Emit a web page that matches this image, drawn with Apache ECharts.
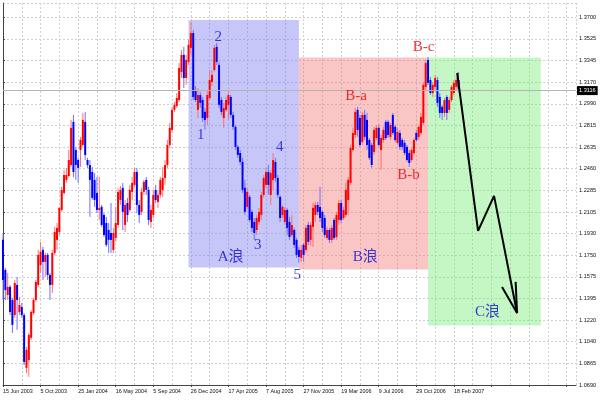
<!DOCTYPE html>
<html><head><meta charset="utf-8">
<script src="https://cdn.jsdelivr.net/npm/echarts@6/dist/echarts.min.js"></script>
<style>html,body{margin:0;padding:0;background:#fff}#c{width:600px;height:400px}</style>
</head><body><div id="c"></div>
<script>
// weekly candles: [open, close, low, high]
const candles = [
[1.1878,1.1550,1.1386,1.1934],[1.1632,1.1468,1.1386,1.1649],[1.1427,1.1493,1.1386,1.1607],[1.1493,1.1288,1.1263,1.1509],
[1.1386,1.1182,1.1116,1.1403],[1.1263,1.1525,1.1239,1.1550],[1.1509,1.1386,1.1141,1.1575],[1.1288,1.1345,1.1263,1.1411],
[1.1329,1.1263,1.1239,1.1361],[1.1263,1.0879,1.0854,1.1279],[1.0830,1.0977,1.0788,1.1002],[1.0895,1.1100,1.0756,1.1116],
[1.1076,1.1288,1.1059,1.1304],[1.1279,1.1386,1.1263,1.1403],[1.1386,1.1534,1.1370,1.1550],[1.1509,1.1755,1.1493,1.1796],
[1.1673,1.1780,1.1607,1.1862],[1.1796,1.1698,1.1550,1.1821],[1.1698,1.1755,1.1575,1.1771],[1.1755,1.1591,1.1550,1.1771],
[1.1591,1.1509,1.1386,1.1607],[1.1509,1.1771,1.1443,1.1796],[1.1771,1.1943,1.1755,1.1984],[1.1878,1.1976,1.1796,1.2016],
[1.1943,1.2140,1.1918,1.2148],[1.2123,1.2287,1.2107,1.2312],[1.2262,1.2409,1.2246,1.2450],[1.2369,1.2409,1.2344,1.2467],
[1.2401,1.2532,1.2385,1.2614],[1.2491,1.2795,1.2475,1.2860],[1.2844,1.2434,1.2393,1.2901],[1.2614,1.2491,1.2369,1.2639],
[1.2532,1.2467,1.2344,1.2549],[1.2614,1.2696,1.2475,1.2721],[1.2655,1.2860,1.2639,1.2917],[1.2844,1.2573,1.2532,1.2926],
[1.2532,1.2491,1.2467,1.2549],[1.2491,1.2369,1.2066,1.2532],[1.2434,1.2222,1.2205,1.2475],[1.2369,1.2205,1.2148,1.2425],
[1.2262,1.2123,1.2098,1.2393],[1.2123,1.2140,1.2041,1.2393],[1.2148,1.2000,1.1984,1.2164],[1.2082,1.1918,1.1902,1.2098],
[1.2016,1.1837,1.1821,1.2066],[1.1959,1.1878,1.1771,1.2016],[1.1934,1.1878,1.1771,1.2180],[1.1796,1.1934,1.1771,1.1976],
[1.1894,1.2016,1.1862,1.2148],[1.2000,1.2271,1.1976,1.2304],[1.2205,1.2287,1.2164,1.2320],[1.2304,1.2107,1.1959,1.2344],
[1.2000,1.2164,1.1943,1.2205],[1.2180,1.2082,1.2025,1.2222],[1.2123,1.2287,1.2107,1.2328],[1.2271,1.2344,1.2205,1.2393],
[1.2328,1.2434,1.2312,1.2467],[1.2434,1.2164,1.2098,1.2467],[1.2164,1.2082,1.2016,1.2205],[1.2107,1.2271,1.2082,1.2304],
[1.2271,1.2353,1.2246,1.2369],[1.2369,1.2287,1.2246,1.2393],[1.2287,1.2041,1.2000,1.2312],[1.2025,1.2123,1.1976,1.2164],
[1.2082,1.2246,1.2057,1.2287],[1.2287,1.2205,1.2180,1.2328],[1.2189,1.2246,1.2140,1.2287],[1.2246,1.2369,1.2222,1.2393],
[1.2287,1.2385,1.2230,1.2475],[1.2385,1.2491,1.2328,1.2532],[1.2491,1.2655,1.2467,1.2696],[1.2655,1.2795,1.2631,1.2835],
[1.2778,1.2942,1.2762,1.2967],[1.2942,1.2983,1.2926,1.3007],[1.2974,1.3039,1.2958,1.3080],[1.3023,1.3285,1.3007,1.3326],
[1.3253,1.3392,1.3203,1.3433],[1.3392,1.3203,1.3121,1.3458],[1.3203,1.3351,1.3146,1.3392],[1.3335,1.3474,1.3310,1.3515],
[1.3450,1.3571,1.3392,1.3662],[1.3571,1.3048,1.3023,1.3596],[1.3105,1.3023,1.3007,1.3138],[1.2942,1.3064,1.2876,1.3121],
[1.3064,1.2999,1.2958,1.3089],[1.3023,1.2876,1.2844,1.3048],[1.2926,1.2860,1.2778,1.2958],[1.2876,1.3064,1.2819,1.3105],
[1.3039,1.3187,1.3023,1.3269],[1.3171,1.3228,1.3138,1.3269],[1.3269,1.3450,1.3253,1.3474],[1.3458,1.3335,1.3310,1.3490],
[1.3310,1.2983,1.2958,1.3335],[1.3023,1.2926,1.2901,1.3048],[1.2876,1.2958,1.2795,1.2999],[1.2942,1.3023,1.2926,1.3048],
[1.2983,1.3064,1.2860,1.3105],[1.3048,1.2901,1.2876,1.3064],[1.2901,1.2803,1.2778,1.2926],[1.2803,1.2639,1.2614,1.2819],
[1.2639,1.2573,1.2549,1.2655],[1.2589,1.2516,1.2491,1.2614],[1.2516,1.2287,1.2262,1.2549],[1.2304,1.2107,1.2082,1.2369],
[1.2148,1.2271,1.2123,1.2304],[1.2230,1.2041,1.2025,1.2246],[1.2107,1.1976,1.1943,1.2123],[1.2025,1.1934,1.1878,1.2057],
[1.1959,1.2057,1.1918,1.2082],[1.2025,1.2107,1.2000,1.2140],[1.2082,1.2246,1.2041,1.2271],[1.2246,1.2385,1.2222,1.2409],
[1.2328,1.2434,1.2304,1.2467],[1.2434,1.2328,1.2246,1.2491],[1.2246,1.2425,1.2164,1.2450],[1.2369,1.2532,1.2287,1.2589],
[1.2516,1.2385,1.2353,1.2549],[1.2385,1.2246,1.2222,1.2409],[1.2230,1.2057,1.2025,1.2246],[1.2082,1.2148,1.2057,1.2164],
[1.2025,1.2123,1.2000,1.2148],[1.2123,1.1976,1.1918,1.2140],[1.2025,1.1902,1.1878,1.2066],[1.1918,1.2000,1.1902,1.2082],
[1.1959,1.1837,1.1813,1.1976],[1.1878,1.1755,1.1731,1.1894],[1.1796,1.1739,1.1690,1.1821],[1.1731,1.1796,1.1698,1.1837],
[1.1837,1.1755,1.1698,1.1853],[1.1796,1.1976,1.1771,1.2000],[1.2000,1.1862,1.1837,1.2025],[1.1878,1.2000,1.1829,1.2025],
[1.1984,1.2140,1.1821,1.2180],[1.2082,1.2164,1.2025,1.2189],[1.2164,1.2107,1.2082,1.2189],[1.2148,1.2057,1.2025,1.2312],
[1.2107,1.1976,1.1943,1.2123],[1.2057,1.1918,1.1894,1.2082],[1.1894,1.1959,1.1878,1.1984],[1.1959,1.1878,1.1853,1.1976],
[1.1878,1.1976,1.1853,1.2000],[1.2041,1.1894,1.1878,1.2057],[1.1902,1.2082,1.1878,1.2107],[1.2041,1.2180,1.2000,1.2205],
[1.2180,1.2041,1.2016,1.2205],[1.2057,1.2123,1.2041,1.2148],[1.2082,1.2287,1.2066,1.2344],[1.2205,1.2369,1.2082,1.2393],
[1.2344,1.2631,1.2328,1.2655],[1.2614,1.2753,1.2598,1.2795],[1.2737,1.2926,1.2712,1.2958],[1.2942,1.2778,1.2721,1.2967],
[1.2876,1.2655,1.2639,1.2901],[1.2680,1.2901,1.2655,1.2926],[1.2901,1.2721,1.2696,1.2942],[1.2860,1.2655,1.2614,1.2917],
[1.2696,1.2549,1.2532,1.2712],[1.2655,1.2491,1.2467,1.2672],[1.2598,1.2778,1.2573,1.2803],[1.2712,1.2795,1.2696,1.2819],
[1.2795,1.2655,1.2639,1.2819],[1.2614,1.2712,1.2450,1.2737],[1.2696,1.2778,1.2672,1.2803],[1.2844,1.2712,1.2696,1.2860],
[1.2844,1.2737,1.2712,1.2860],[1.2721,1.2819,1.2696,1.2835],[1.2901,1.2753,1.2737,1.2917],[1.2803,1.2696,1.2680,1.2819],
[1.2672,1.2762,1.2655,1.2795],[1.2753,1.2639,1.2614,1.2778],[1.2696,1.2639,1.2614,1.2712],[1.2672,1.2589,1.2573,1.2696],
[1.2639,1.2532,1.2516,1.2655],[1.2589,1.2507,1.2475,1.2614],[1.2532,1.2614,1.2516,1.2631],[1.2589,1.2696,1.2573,1.2712],
[1.2753,1.2696,1.2680,1.2778],[1.2721,1.2803,1.2696,1.2819],[1.2753,1.2884,1.2737,1.2917],[1.2835,1.3146,1.2819,1.3163],
[1.3130,1.3326,1.3105,1.3351],[1.3351,1.3163,1.3146,1.3376],[1.3187,1.3080,1.3064,1.3212],[1.3080,1.3146,1.3048,1.3171],
[1.3130,1.3203,1.3105,1.3228],[1.3187,1.2999,1.2967,1.3212],[1.3048,1.2917,1.2876,1.3080],[1.2967,1.2917,1.2860,1.2983],
[1.2917,1.3023,1.2884,1.3039],[1.3048,1.2917,1.2860,1.3064],[1.2942,1.3023,1.2917,1.3048],[1.3023,1.3130,1.3007,1.3146],
[1.3080,1.3163,1.3064,1.3187],[1.3130,1.3187,1.3105,1.3212],[1.3187,1.3116,1.3089,1.3253]
];
const weekLabels = ['15 Jun 2003','5 Oct 2003','25 Jan 2004','16 May 2004','5 Sep 2004','26 Dec 2004','17 Apr 2005','7 Aug 2005','27 Nov 2005','19 Mar 2006','9 Jul 2006','29 Oct 2006','18 Feb 2007'];
const priceLabels = ['1.0690','1.0865','1.1040','1.1220','1.1395','1.1575','1.1750','1.1930','1.2105','1.2285','1.2460','1.2635','1.2815','1.2990','1.3170','1.3345','1.3525','1.3700'];
const lastPrice = 1.3116;
// wave zones (week index, price)
const zoneStart = [79, 126, 181];
const zoneEnd   = [126, 181, 229];
const zoneHigh  = [1.3678, 1.3371, 1.3371];
const zoneLow   = [1.1652, 1.1636, 1.1178];
// wave labels
const waveNames = ['1','2','3','4','5','A浪','B浪','C浪','B-a','B-b','B-c'];
const waveIdx   = [84.2, 91.7, 108.5, 117.9, 125.3, 96.9, 154.3, 206.3, 150.3, 172.7, 179.1];
const wavePrice = [1.2737, 1.3542, 1.1837, 1.2636, 1.1591, 1.1741, 1.1741, 1.1290, 1.3056, 1.2409, 1.3460];
// projected C wave arrow
const arrowIdx   = [193.4, 202.3, 209.1, 218.9];
const arrowPrice = [1.3244, 1.1951, 1.2238, 1.1279];
const headIdx    = [212.5, 218.9, 218.3];
const headPrice  = [1.1493, 1.1279, 1.1534];

const yMin = 1.0690, yMax = 1.3817, yStep = (1.3700 - 1.0690) / 17, xMax = 244;
const zoneColors = ['rgba(120,120,240,0.42)', 'rgba(240,110,110,0.40)', 'rgba(110,235,110,0.40)'];
const chart = echarts.init(document.getElementById('c'), null, {renderer: 'canvas'});

function renderCandle(params, api) {
  const i = api.value(0), o = api.value(1), c = api.value(2), l = api.value(3), h = api.value(4);
  const pO = api.coord([i, o]), pC = api.coord([i, c]), pL = api.coord([i, l]), pH = api.coord([i, h]);
  const up = c >= o, x = pO[0];
  const top = Math.min(pO[1], pC[1]), bot = Math.max(pO[1], pC[1]);
  return {type: 'group', children: [
    {type: 'line', shape: {x1: x, y1: pH[1], x2: x, y2: pL[1]}, style: {stroke: up ? '#ff7070' : '#7070ff', lineWidth: 1}},
    {type: 'rect', shape: {x: x - 1, y: top, width: 2, height: Math.max(1, bot - top)}, style: {fill: up ? '#ff0000' : '#0000ff'}}
  ]};
}

const font = '"Liberation Sans", Arial, sans-serif';
const serif = '"Liberation Serif", "Noto Sans CJK SC", serif';

chart.setOption({
  animation: false,
  backgroundColor: '#fff',
  grid: {left: 2, right: 24, top: 3, bottom: 15},
  xAxis: [
    {type: 'value', min: 0, max: xMax, interval: 16, position: 'bottom',
     axisLine: {show: true, onZero: false, lineStyle: {color: '#444'}},
     axisTick: {show: true, length: 2, lineStyle: {color: '#444'}},
     axisLabel: {align: 'left', fontSize: 5.4, color: '#111', fontFamily: font, margin: 4, showMaxLabel: false,
       formatter: v => (v % 16 === 0 ? (weekLabels[v / 16] || '') : '')},
     splitLine: {show: false}},
    {type: 'value', min: 0, max: xMax, interval: 8, position: 'top',
     axisLine: {show: false}, axisTick: {show: false}, axisLabel: {show: false},
     splitLine: {show: true, lineStyle: {color: '#cfcfcf', type: [2, 2], width: 1}}}
  ],
  yAxis: {type: 'value', position: 'right', min: yMin, max: yMax, interval: yStep,
    axisLine: {show: true, lineStyle: {color: '#444'}},
    axisTick: {show: true, length: 2, lineStyle: {color: '#444'}},
    axisLabel: {fontSize: 5.6, color: '#111', fontFamily: font, margin: 3, showMaxLabel: false,
      formatter: v => { const k = Math.round((v - yMin) / yStep); return Math.abs(v - (yMin + k * yStep)) < 1e-6 ? (priceLabels[k] || '') : ''; }},
    splitLine: {show: true, lineStyle: {color: '#cfcfcf', type: [2, 2], width: 1}}},
  series: [
    {type: 'line', name: 'zones', data: [], z: 1, silent: true,
     markArea: {silent: true,
       data: zoneStart.map((s, k) => [{coord: [s, zoneHigh[k]], itemStyle: {color: zoneColors[k]}}, {coord: [zoneEnd[k], zoneLow[k]]}])},
     markLine: {silent: true, symbol: 'none', animation: false,
       data: [{yAxis: lastPrice}],
       lineStyle: {color: '#b4b4b4', type: 'solid', width: 1},
       label: {show: true, position: 'end', distance: 1, formatter: () => lastPrice.toFixed(4),
         backgroundColor: '#000', color: '#fff', fontSize: 5.6, fontFamily: font, padding: [2, 2, 1, 2]}}},
    {type: 'custom', name: 'EURUSD', z: 3, silent: true,
     renderItem: renderCandle,
     encode: {x: 0, y: [1, 2, 3, 4]},
     data: candles.map((r, i) => [i, r[0], r[1], r[2], r[3]])},
    {type: 'line', name: 'arrow', z: 6, silent: true, symbol: 'none',
     lineStyle: {color: '#000', width: 2},
     data: arrowIdx.map((x, k) => [x, arrowPrice[k]])},
    {type: 'line', name: 'arrowhead', z: 6, silent: true, symbol: 'none',
     lineStyle: {color: '#000', width: 2},
     data: headIdx.map((x, k) => [x, headPrice[k]])},
    {type: 'scatter', name: 'waves', z: 7, silent: true, symbolSize: 1,
     itemStyle: {color: 'rgba(0,0,0,0)'},
     label: {show: true, position: 'inside', formatter: '{b}', fontSize: 15, fontFamily: serif},
     labelLayout: {hideOverlap: false},
     data: waveNames.map((n, k) => ({name: n, value: [waveIdx[k], wavePrice[k]],
       label: {color: n.indexOf('B-') === 0 ? '#e60000' : '#0e0ed8'}}))}
  ]
});
</script></body></html>
